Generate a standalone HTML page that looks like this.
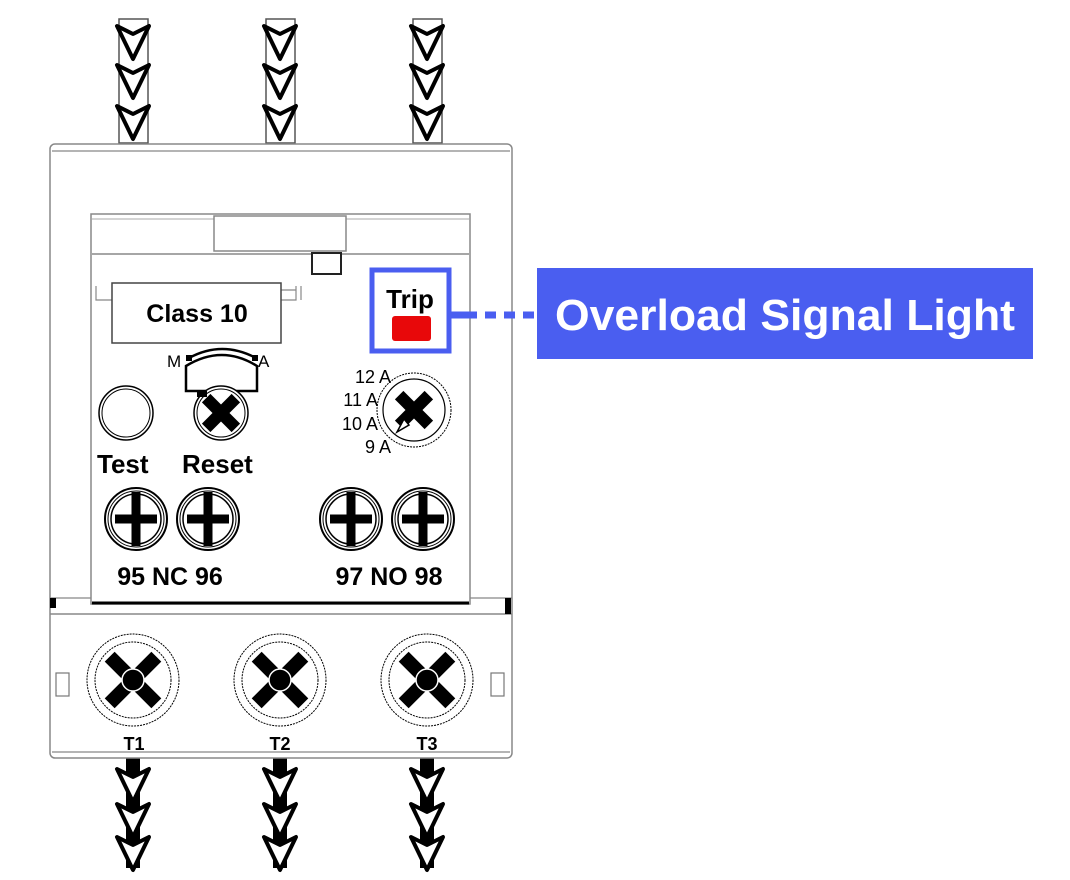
<!DOCTYPE html>
<html><head><meta charset="utf-8"><style>
html,body{margin:0;padding:0;background:#fff;}
svg{display:block;}
text{font-family:"Liberation Sans",sans-serif;}
</style></head><body>
<svg width="1070" height="880" viewBox="0 0 1070 880" xmlns="http://www.w3.org/2000/svg">
<defs>
<g id="chev"><path d="M-16,-16 L0,-8 L16,-16 L0,17 Z" fill="#fff" stroke="#000" stroke-width="4" stroke-linejoin="round"/></g>
<g id="plus">
<circle r="31" fill="#fff" stroke="#000" stroke-width="2"/>
<circle r="28" fill="none" stroke="#000" stroke-width="1"/>
<circle r="25" fill="none" stroke="#000" stroke-width="1.5"/>
<rect x="-21" y="-4.5" width="42" height="9" fill="#000"/>
<rect x="-4.5" y="-27" width="9" height="54" fill="#000"/>
</g>
<g id="big">
<circle r="46" fill="#fff" stroke="#000" stroke-width="1" stroke-dasharray="2,1"/>
<circle r="38" fill="none" stroke="#000" stroke-width="1" stroke-dasharray="2,1"/>
<g transform="rotate(45)"><rect x="-33" y="-7" width="66" height="14" fill="#000"/><rect x="-7" y="-33" width="14" height="66" fill="#000"/></g>
<circle r="11" fill="#000" stroke="#fff" stroke-width="1.5"/>
</g>
</defs>

<g fill="#fff" stroke="#555" stroke-width="1.5">
<rect x="119" y="19" width="29" height="124"/>
<rect x="266" y="19" width="29" height="124"/>
<rect x="413" y="19" width="29" height="124"/>
</g>
<g>
<use href="#chev" x="133" y="42"/><use href="#chev" x="133" y="81"/><use href="#chev" x="133" y="122"/>
<use href="#chev" x="280" y="42"/><use href="#chev" x="280" y="81"/><use href="#chev" x="280" y="122"/>
<use href="#chev" x="427" y="42"/><use href="#chev" x="427" y="81"/><use href="#chev" x="427" y="122"/>
</g>

<g fill="#000">
<rect x="126" y="758" width="14" height="110"/>
<rect x="273" y="758" width="14" height="110"/>
<rect x="420" y="758" width="14" height="110"/>
</g>
<g>
<use href="#chev" x="133" y="785"/><use href="#chev" x="133" y="820"/><use href="#chev" x="133" y="853"/>
<use href="#chev" x="280" y="785"/><use href="#chev" x="280" y="820"/><use href="#chev" x="280" y="853"/>
<use href="#chev" x="427" y="785"/><use href="#chev" x="427" y="820"/><use href="#chev" x="427" y="853"/>
</g>

<rect x="50" y="144" width="462" height="614" rx="5" fill="#fff" stroke="#888" stroke-width="1.5"/>
<line x1="52" y1="151" x2="510" y2="151" stroke="#888" stroke-width="1.2"/>
<line x1="50" y1="598" x2="512" y2="598" stroke="#888" stroke-width="1.2"/>
<line x1="50" y1="614" x2="512" y2="614" stroke="#888" stroke-width="1.5"/>
<rect x="50" y="598" width="6" height="10" fill="#000"/>
<rect x="505" y="598" width="6" height="16" fill="#000"/>
<line x1="52" y1="752" x2="510" y2="752" stroke="#888" stroke-width="1.2"/>

<rect x="91" y="214" width="379" height="390" fill="#fff" stroke="#888" stroke-width="1.5"/>
<line x1="92" y1="603" x2="469" y2="603" stroke="#000" stroke-width="3"/>
<line x1="92" y1="219" x2="469" y2="219" stroke="#aaa" stroke-width="1"/>
<line x1="92" y1="254" x2="469" y2="254" stroke="#888" stroke-width="1.5"/>
<rect x="214" y="216" width="132" height="35" fill="#fff" stroke="#888" stroke-width="1.5"/>
<rect x="312" y="253" width="29" height="21" fill="#fff" stroke="#222" stroke-width="2"/>

<path d="M96,286 V300 H112 M281,300 H296 V286 M301,286 V300 M281,290 H296" fill="none" stroke="#888" stroke-width="1.2"/>
<rect x="112" y="283" width="169" height="60" fill="#fff" stroke="#444" stroke-width="1.5"/>
<text x="197" y="322" font-size="25" font-weight="bold" text-anchor="middle">Class 10</text>

<rect x="372" y="270" width="77" height="81" fill="#fff" stroke="#4a5ef0" stroke-width="5"/>
<text x="410" y="308" font-size="26" font-weight="bold" text-anchor="middle">Trip</text>
<rect x="392" y="316" width="39" height="25" rx="3" fill="#e8080a"/>

<line x1="451" y1="315" x2="477" y2="315" stroke="#4a5ef0" stroke-width="7"/>
<line x1="485" y1="315" x2="537" y2="315" stroke="#4a5ef0" stroke-width="7" stroke-dasharray="11,8"/>
<rect x="537" y="268" width="496" height="91" fill="#4a5ef0"/>
<text x="785" y="330" font-size="44" font-weight="bold" fill="#fff" text-anchor="middle" textLength="460" lengthAdjust="spacingAndGlyphs">Overload Signal Light</text>

<text x="167" y="367" font-size="17">M</text>
<text x="258" y="367" font-size="17">A</text>
<path d="M186,366 V391 H257 V366 Q222,344 186,366 Z" fill="#fff" stroke="#000" stroke-width="2.5"/>
<path d="M189,358 Q222,340 256,358" fill="none" stroke="#000" stroke-width="2.5"/>
<rect x="186" y="355" width="6" height="6" fill="#000"/><rect x="252" y="355" width="6" height="6" fill="#000"/>

<circle cx="126" cy="413" r="27" fill="#fff" stroke="#000" stroke-width="1.5"/>
<circle cx="126" cy="413" r="24" fill="none" stroke="#000" stroke-width="1"/>
<circle cx="221" cy="413" r="27" fill="#fff" stroke="#000" stroke-width="1.5"/>
<circle cx="221" cy="413" r="24" fill="none" stroke="#000" stroke-width="1"/>
<g transform="translate(221,413) rotate(45)"><rect x="-21" y="-6" width="42" height="12" fill="#000"/><rect x="-6" y="-21" width="12" height="42" fill="#000"/></g>
<rect x="197" y="391" width="10" height="6" fill="#000"/>
<text x="97" y="473" font-size="26" font-weight="bold">Test</text>
<text x="182" y="473" font-size="26" font-weight="bold">Reset</text>

<circle cx="414" cy="410" r="37" fill="#fff" stroke="#000" stroke-width="1" stroke-dasharray="2,1"/>
<circle cx="414" cy="410" r="31" fill="none" stroke="#000" stroke-width="1.2"/>
<g transform="translate(414,410) rotate(45)"><rect x="-21" y="-6" width="42" height="12" fill="#000"/><rect x="-6" y="-21" width="12" height="42" fill="#000"/></g>
<path d="M397,432 L404,419 L409,425 Z" fill="#fff" stroke="#000" stroke-width="1.5"/>
<g font-size="18" text-anchor="end">
<text x="391" y="383">12 A</text>
<text x="378" y="406">11 A</text>
<text x="378" y="430">10 A</text>
<text x="391" y="453">9 A</text>
</g>

<use href="#plus" x="136" y="519"/><use href="#plus" x="208" y="519"/>
<use href="#plus" x="351" y="519"/><use href="#plus" x="423" y="519"/>
<text x="170" y="585" font-size="25" font-weight="bold" text-anchor="middle">95 NC 96</text>
<text x="389" y="585" font-size="25" font-weight="bold" text-anchor="middle">97 NO 98</text>

<rect x="56" y="673" width="13" height="23" fill="#fff" stroke="#777" stroke-width="1.2"/>
<rect x="491" y="673" width="13" height="23" fill="#fff" stroke="#777" stroke-width="1.2"/>
<use href="#big" x="133" y="680"/><use href="#big" x="280" y="680"/><use href="#big" x="427" y="680"/>
<g font-size="18" font-weight="bold" text-anchor="middle">
<text x="134" y="750">T1</text><text x="280" y="750">T2</text><text x="427" y="750">T3</text>
</g>
</svg>
</body></html>
